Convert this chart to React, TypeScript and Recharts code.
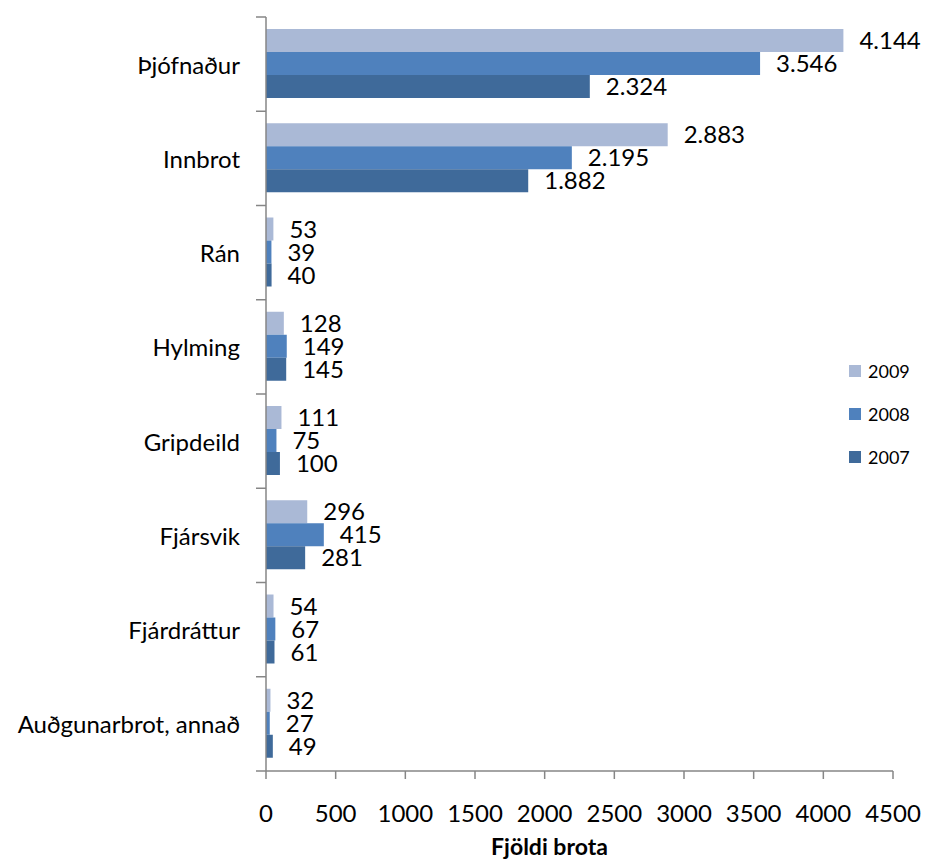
import React from 'react';
import { Bar, BarChart, LabelList, Legend, XAxis, YAxis } from 'recharts';

const categories = ['Þjófnaður', 'Innbrot', 'Rán', 'Hylming', 'Gripdeild', 'Fjársvik', 'Fjárdráttur', 'Auðgunarbrot, annað'];
const v2009 = [4144, 2883, 53, 128, 111, 296, 54, 32];
const v2008 = [3546, 2195, 39, 149, 75, 415, 67, 27];
const v2007 = [2324, 1882, 40, 145, 100, 281, 61, 49];
const xTicks = [0, 500, 1000, 1500, 2000, 2500, 3000, 3500, 4000, 4500];

const data = categories.map((name, i) => ({ name, y2009: v2009[i], y2008: v2008[i], y2007: v2007[i] }));

const FONT = 'Lato, "Open Sans", sans-serif';
const AXIS = '#868686';
const W = 925;
const H = 860;
const M = { top: 17, right: 32, bottom: 0, left: 0 };
const Y_W = 266;
const X_H = 89;
const band = (H - M.top - M.bottom - X_H) / categories.length;

const fmt = (v: any) => String(v).replace(/\B(?=(\d{3})+(?!\d))/g, '.');

const CatTick = (props: any) => {
    const { y, payload, index } = props;
    const ax = Y_W + M.left;
    return (
        <g>
            <line x1={ax - 10} x2={ax} y1={y - band / 2} y2={y - band / 2} stroke={AXIS} strokeWidth={1.5} />
            {index === categories.length - 1 && (
                <line x1={ax - 10} x2={ax} y1={y + band / 2} y2={y + band / 2} stroke={AXIS} strokeWidth={1.5} />
            )}
            <text x={ax - 26} y={y} textAnchor="end" dominantBaseline="central" fontSize={24} fontFamily={FONT} fill="#000">
                {payload.value}
            </text>
        </g>
    );
};

const LegendBox = (props: any) => {
    const items = [...(props.payload || [])].sort((a: any, b: any) => String(b.value).localeCompare(String(a.value)));
    return (
        <div style={{ fontFamily: FONT, fontSize: 18, color: '#000' }}>
            {items.map((it: any) => (
                <div key={it.value} style={{ display: 'flex', alignItems: 'center', height: 43 }}>
                    <span style={{ display: 'inline-block', width: 12, height: 12, background: it.color, marginRight: 7 }} />
                    <span>{it.value}</span>
                </div>
            ))}
        </div>
    );
};

const XLabel = (props: any) => {
    const vb = props.viewBox;
    return (
        <text x={vb.x + vb.width / 2 - 30} y={vb.y + vb.height - 5} textAnchor="middle" fontSize={23} fontWeight="bold" fontFamily={FONT} fill="#000">
            Fjöldi brota
        </text>
    );
};

const App = () => {
    return (
        <div style={{ position: 'absolute', top: 0, left: 0, width: W, height: H, background: '#fff', overflow: 'hidden' }}>
            <BarChart width={W} height={H} data={data} layout="vertical" margin={M} barCategoryGap={12} barGap={0}>
                <XAxis
                    type="number"
                    domain={[0, 4500]}
                    ticks={xTicks}
                    interval={0}
                    height={X_H}
                    tickSize={8}
                    tickMargin={26}
                    stroke={AXIS}
                    axisLine={{ stroke: AXIS, strokeWidth: 1.5 }}
                    tickLine={{ stroke: AXIS, strokeWidth: 1.5 }}
                    tick={{ fontSize: 24, fontFamily: FONT, fill: '#000' }}
                    label={XLabel}
                />
                <YAxis
                    type="category"
                    dataKey="name"
                    width={Y_W}
                    interval={0}
                    tickLine={false}
                    axisLine={{ stroke: AXIS, strokeWidth: 1.5 }}
                    tick={CatTick}
                />
                <Legend
                    layout="horizontal"
                    verticalAlign="middle"
                    align="center"
                    content={LegendBox}
                    wrapperStyle={{ top: 349, left: 849, width: 75 }}
                />
                <Bar dataKey="y2009" name="2009" fill="#AAB9D6" isAnimationActive={false}>
                    <LabelList dataKey="y2009" position="right" offset={16} formatter={fmt} fontSize={24} fontFamily={FONT} fill="#000" />
                </Bar>
                <Bar dataKey="y2008" name="2008" fill="#4F81BD" isAnimationActive={false}>
                    <LabelList dataKey="y2008" position="right" offset={16} formatter={fmt} fontSize={24} fontFamily={FONT} fill="#000" />
                </Bar>
                <Bar dataKey="y2007" name="2007" fill="#3F6A9A" isAnimationActive={false}>
                    <LabelList dataKey="y2007" position="right" offset={16} formatter={fmt} fontSize={24} fontFamily={FONT} fill="#000" />
                </Bar>
            </BarChart>
        </div>
    );
};

export default App;
